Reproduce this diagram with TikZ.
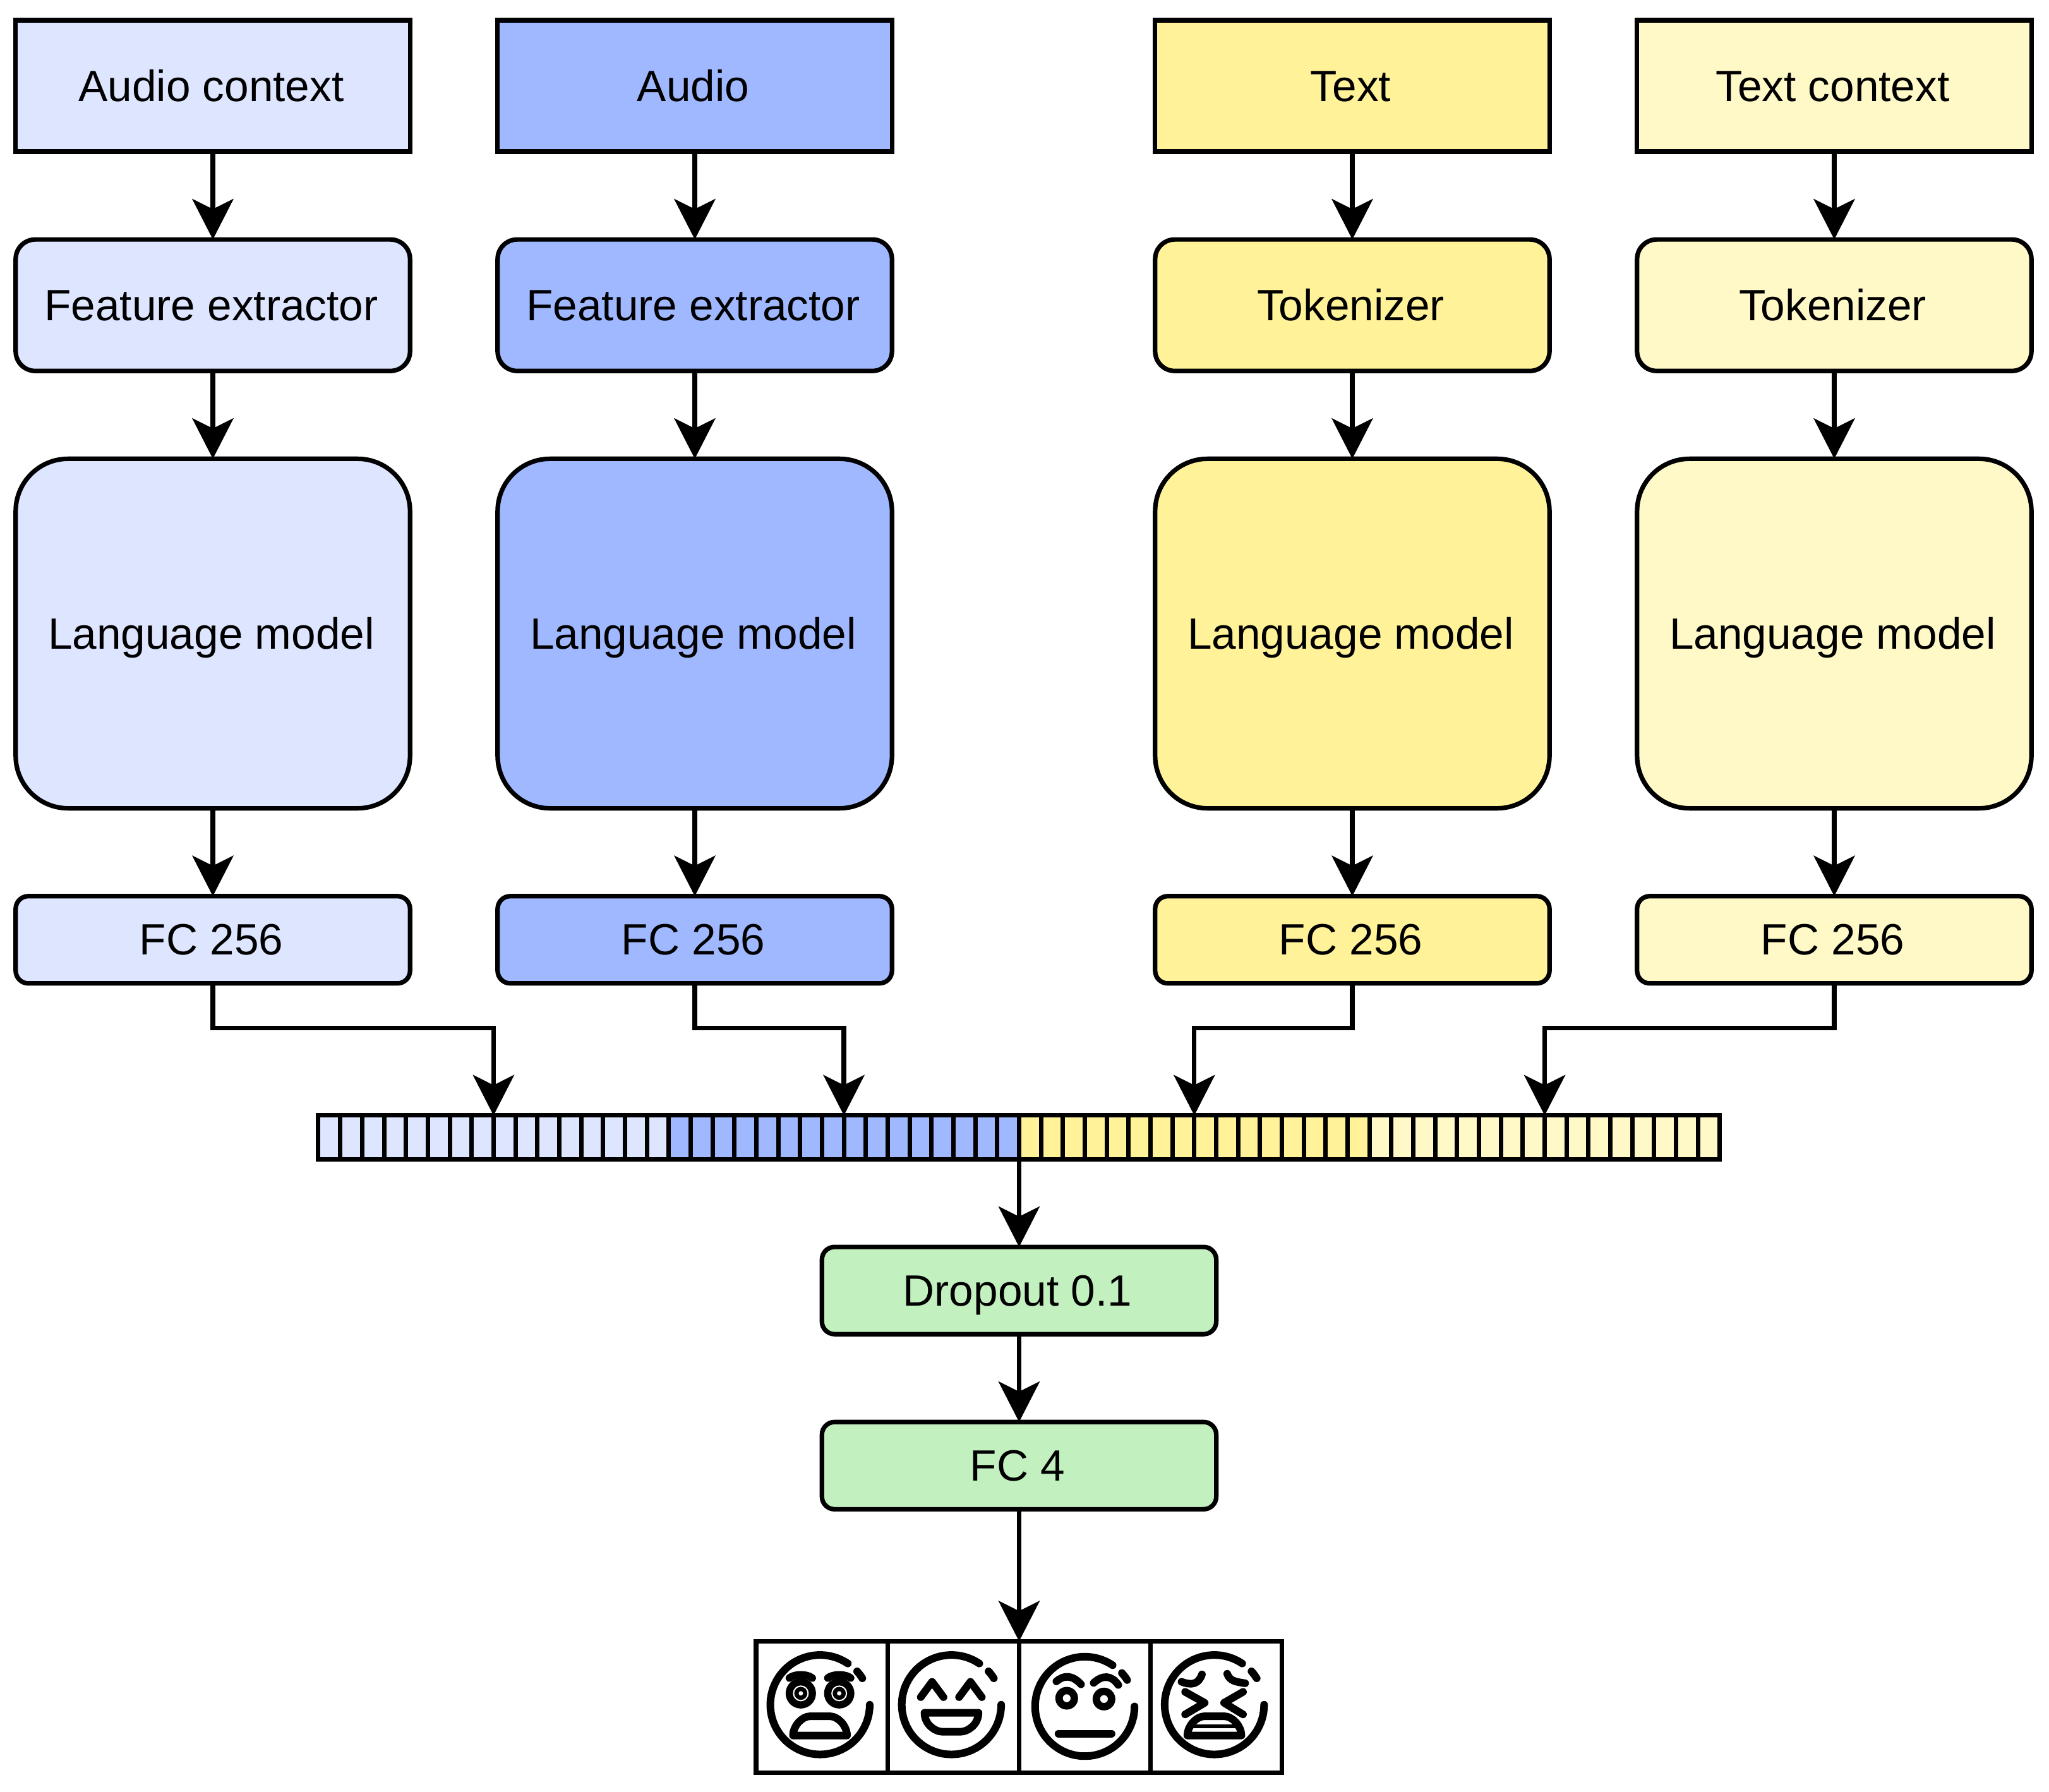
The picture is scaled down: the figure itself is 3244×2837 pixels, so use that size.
\documentclass[tikz,border=0pt]{standalone}
\usepackage{fontspec}
\setmainfont{Liberation Sans}
\usetikzlibrary{positioning,arrows.meta}

\definecolor{audioctx}{HTML}{DEE5FF}
\definecolor{audio}{HTML}{A0B8FF}
\definecolor{textin}{HTML}{FFF299}
\definecolor{textctx}{HTML}{FFF9C7}
\definecolor{head}{HTML}{C2F0BF}

\tikzset{
  block/.style={draw,line width=0.072cm,minimum width=6.24cm,outer sep=0pt,inner sep=0pt,
                font=\fontsize{19.72pt}{24pt}\selectfont,text height=0.5cm,text depth=0.02cm,
                execute at begin node=\hspace*{-0.05cm}},
  input node/.style={block,minimum height=2.08cm},
  prep node/.style={block,minimum height=2.08cm,rounded corners=0.31cm},
  lang node/.style={block,minimum height=5.53cm,rounded corners=0.83cm},
  fc node/.style={block,minimum height=1.38cm,rounded corners=0.2cm},
  cell/.style={draw,line width=0.07cm,minimum width=0.3467cm,minimum height=0.69cm,outer sep=0pt,inner sep=0pt},
  emo/.style={draw,line width=0.075cm,minimum width=2.08cm,minimum height=2.08cm,outer sep=0pt,inner sep=0pt},
  arrow/.style={line width=0.072cm,-{Stealth[length=0.64cm,width=0.65cm,inset=0.16cm]}},
  face line/.style={line width=0.12cm,line cap=round,line join=round},
  rim/.pic={
    \draw[face line] (56:78.7) arc[start angle=56,end angle=360,radius=78.7];
    \draw[face line] (42:79) arc[start angle=42,end angle=32,radius=79];
  },
  domemouth/.pic={
    \draw[face line] (-42.7,-48.7) .. controls (-42.7,-33) and (-28,-18.3) .. (-16,-18.3)
      -- (16,-18.3) .. controls (28,-18.3) and (42.7,-33) .. (42.7,-48.7) -- cycle;
  },
  scared/.pic={
    \begin{scope}[y=0.01cm]
      \pic {rim};
      \foreach \s in {-1,1}{
        \fill (\s*30.4,18) circle[radius=24];
        \draw[white,line width=0.02cm] (\s*30.4,18) circle[radius=11.5];
        \fill[white] (\s*30.4,18) circle[radius=3.5];
        \draw[face line] (\s*48.4,42.3) .. controls (\s*40,49) and (\s*21,49) .. (\s*12.4,42.3);
      }
      \pic {domemouth};
    \end{scope}
  },
  laughing/.pic={
    \begin{scope}[y=0.01cm]
      \pic {rim};
      \draw[face line] (-48.7,12) -- (-30.7,36.3) -- (-12.7,12);
      \draw[face line] (12,12) -- (30,36.3) -- (48,12);
      \draw[face line] (-42.7,-12.7) -- (42.7,-12.7) .. controls (42.7,-32) and (25,-42.7) .. (15,-42.7)
        -- (-15,-42.7) .. controls (-25,-42.7) and (-42.7,-32) .. cycle;
    \end{scope}
  },
  neutral/.pic={
    \begin{scope}[y=0.01cm]
      \pic {rim};
      \draw[face line] (-45,39.7) .. controls (-33,50) and (-20,50) .. (-6,35);
      \draw[face line] (14,37.3) .. controls (28,50) and (42,50) .. (53,34);
      \fill[even odd rule] (-28.7,13) circle[radius=18] (-28.7,13) circle[radius=6.3];
      \fill[even odd rule] (30.3,11.7) circle[radius=18] (30.3,11.7) circle[radius=6.3];
      \draw[face line] (-41.7,-43) -- (42.3,-43);
    \end{scope}
  },
  squint/.pic={
    \begin{scope}[y=0.01cm]
      \pic {rim};
      \draw[face line] (-52,36.3) .. controls (-35,30) and (-25,33) .. (-19.7,48);
      \draw[face line] (20.3,49) .. controls (24,37) and (36,36) .. (48.7,34);
      \draw[face line] (-46.3,20.3) -- (-15.3,3) -- (-46.3,-15.3);
      \draw[face line] (45.3,20.3) -- (15.3,3) -- (45.3,-15.3);
      \pic {domemouth};
      \draw[line width=0.06cm] (-36,-33.7) -- (36,-33.7);
    \end{scope}
  },
}

\begin{document}
\begin{tikzpicture}[x=0.01cm,y=-0.01cm,node distance=1.39cm]
  \useasboundingbox (0,0) rectangle (3244,2837);

  % the four input columns
  \foreach \name/\colr/\xpos/\intext/\preptext in {
      a/audioctx/337/Audio context/Feature extractor,
      b/audio/1100/Audio/Feature extractor,
      c/textin/2141/Text/Tokenizer,
      d/textctx/2904/Text context/Tokenizer}{
    \node[input node,fill=\colr] (in\name) at (\xpos,136) {\intext};
    \node[prep node,fill=\colr] (prep\name) [below=of in\name] {\preptext};
    \node[lang node,fill=\colr] (lang\name) [below=of prep\name] {Language model};
    \node[fc node,fill=\colr] (fc\name) [below=of lang\name] {FC 256};
    \draw[arrow] (in\name) -- (prep\name);
    \draw[arrow] (prep\name) -- (lang\name);
    \draw[arrow] (lang\name) -- (fc\name);
  }

  % concatenated vector
  \foreach \n in {1,...,64}{
    \ifnum\n<17 \def\colr{audioctx}\else
    \ifnum\n<33 \def\colr{audio}\else
    \ifnum\n<49 \def\colr{textin}\else \def\colr{textctx}\fi\fi\fi
    \node[cell,fill=\colr] (cell\n) at ({504+34.67*(\n-0.5)},1800.5) {};
  }

  \draw[arrow] (fca) -- ++(0,139.5) -| (cell8.north east);
  \draw[arrow] (fcb) -- ++(0,139.5) -| (cell24.north east);
  \draw[arrow] (fcc) -- ++(0,139.5) -| (cell40.north east);
  \draw[arrow] (fcd) -- ++(0,139.5) -| (cell56.north east);

  % classifier head
  \node[fc node,fill=head] (drop) [below=of cell32.south east] {Dropout 0.1};
  \node[fc node,fill=head] (fcout) [below=of drop] {FC 4};
  \draw[arrow] (cell32.south east) -- (drop);
  \draw[arrow] (drop) -- (fcout);

  % output classes
  \node[emo] (emob) [below left=2.09cm and 0cm of fcout.south] {};
  \node[emo] (emoa) [left=0cm of emob] {};
  \node[emo] (emoc) [right=0cm of emob] {};
  \node[emo] (emod) [right=0cm of emoc] {};
  \draw[arrow] (fcout) -- (emob.north east);

  \pic at ([shift={(-3,-3.7)}]emoa) {scared};
  \pic at ([shift={(-3,-3.7)}]emob) {laughing};
  \pic at ([shift={(0,-1)}]emoc) {neutral};
  \pic at ([shift={(-3,-3.7)}]emod) {squint};
\end{tikzpicture}
\end{document}
